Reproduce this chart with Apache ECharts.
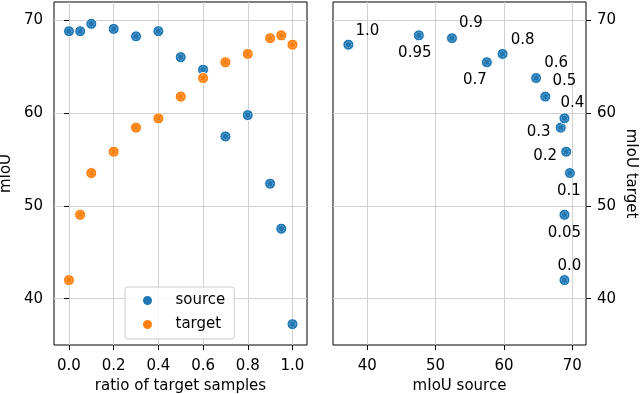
<!DOCTYPE html>
<html>
<head>
<meta charset="utf-8">
<script src="https://cdn.jsdelivr.net/npm/echarts@6/dist/echarts.min.js"></script>
<style>
  html, body { margin: 0; padding: 0; background: #fff; }
  #main { width: 640px; height: 394px; }
</style>
</head>
<body>
<div id="main"></div>
<script>
// ratio of target samples, with the text shown next to each point on the right
const ratios = [0, 0.05, 0.1, 0.2, 0.3, 0.4, 0.5, 0.6, 0.7, 0.8, 0.9, 0.95, 1.0];
const ratioLabels = ['0.0', '0.05', '0.1', '0.2', '0.3', '0.4', '0.5', '0.6', '0.7', '0.8', '0.9', '0.95', '1.0'];
// mIoU values
const sourceMiou = [68.85, 68.85, 69.65, 69.1, 68.3, 68.85, 66.05, 64.7, 57.5, 59.8, 52.4, 47.55, 37.25];
const targetMiou = [42.0, 49.05, 53.55, 55.85, 58.45, 59.45, 61.8, 63.8, 65.5, 66.4, 68.1, 68.4, 67.4];
// tick labels
const ratioTicks = [0, 0.2, 0.4, 0.6, 0.8, 1.0];
const miouTicks = [40, 50, 60, 70];

// where each annotation sits relative to its point (px)
const labelOffsets = [
  [5, -14], [0, 18], [-1, 18], [-21, 4], [-22, 4], [8, -15], [19, -15],
  [20, -15], [-12, 18], [20, -14], [19, -15], [-4, 18], [19, -14]
];

const BLUE = '#1f77b4';
const ORANGE = '#ff7f0e';
const FONT = 'DejaVu Sans';
const FS = 15;

const chart = echarts.init(document.getElementById('main'), null, { renderer: 'canvas' });

function tickAxis(ticks, margin, extra) {
  return Object.assign({
    type: 'value',
    axisLine: { show: false },
    axisTick: { show: true, inside: false, length: 5, customValues: ticks, lineStyle: { color: '#000', width: 1 } },
    axisLabel: { color: '#000', fontFamily: FONT, fontSize: FS, margin: margin, customValues: ticks },
    splitLine: { show: true, lineStyle: { color: '#d0d0d0', width: 1 } },
    nameTextStyle: { color: '#000', fontFamily: FONT, fontSize: FS },
    nameLocation: 'middle'
  }, extra);
}

function dotSeries(name, data, color, xi, yi, withLabels) {
  const main = {
    name: name,
    type: 'scatter',
    xAxisIndex: xi,
    yAxisIndex: yi,
    symbol: 'circle',
    symbolSize: 11,
    data: data,
    itemStyle: { color: color, opacity: 1, borderColor: '#fff', borderWidth: 1 },
    emphasis: { disabled: true },
    animation: false
  };
  if (withLabels) {
    main.data = data.map((d, i) => ({
      value: d,
      label: {
        show: true,
        position: 'inside',
        offset: labelOffsets[i],
        formatter: ratioLabels[i],
        color: '#000',
        fontFamily: FONT,
        fontSize: FS,
        align: 'center',
        verticalAlign: 'middle'
      }
    }));
  }
  // dotted white ring inside each marker
  const ring = {
    type: 'scatter',
    xAxisIndex: xi,
    yAxisIndex: yi,
    symbol: 'circle',
    symbolSize: 6,
    data: data,
    silent: true,
    itemStyle: { color: color, borderColor: 'rgba(255,255,255,0.85)', borderWidth: 0.8, borderType: 'dotted' },
    emphasis: { disabled: true },
    animation: false
  };
  return [main, ring];
}

const sourcePts = ratios.map((r, i) => [r, sourceMiou[i]]);
const targetPts = ratios.map((r, i) => [r, targetMiou[i]]);
const tradeoffPts = ratios.map((r, i) => [sourceMiou[i], targetMiou[i]]);

const gridBase = {
  top: 2, width: 253, height: 343,
  show: true, borderColor: '#000', borderWidth: 1, backgroundColor: 'transparent',
  containLabel: false, outerBoundsMode: 'none'
};

const option = {
  backgroundColor: '#fff',
  animation: false,
  grid: [
    Object.assign({ left: 54 }, gridBase),
    Object.assign({ left: 333 }, gridBase)
  ],
  legend: {
    data: ['source', 'target'],
    orient: 'vertical',
    left: 125,
    top: 287,
    padding: [6, 9, 7, 16],
    itemWidth: 30,
    itemHeight: 11,
    itemGap: 9,
    backgroundColor: 'rgba(255,255,255,0.8)',
    borderColor: '#cccccc',
    borderWidth: 1,
    borderRadius: 3,
    textStyle: { color: '#000', fontFamily: FONT, fontSize: FS, lineHeight: 15, padding: [0, 0, 0, 8] }
  },
  xAxis: [
    tickAxis(ratioTicks, 14, {
      gridIndex: 0, min: -0.067, max: 1.065,
      name: 'ratio of target samples', nameGap: 32,
      axisLabel: { color: '#000', fontFamily: FONT, fontSize: FS, margin: 14, customValues: ratioTicks, formatter: v => v.toFixed(1) }
    }),
    tickAxis(miouTicks, 14, {
      gridIndex: 1, min: 35, max: 72,
      name: 'mIoU source', nameGap: 32
    })
  ],
  yAxis: [
    tickAxis(miouTicks, 11, {
      gridIndex: 0, min: 35, max: 72,
      name: 'mIoU', nameGap: 40
    }),
    tickAxis(miouTicks, 11, {
      gridIndex: 1, min: 35, max: 72, position: 'right',
      name: 'mIoU target', nameGap: 37, nameRotate: -90
    })
  ],
  series: [].concat(
    dotSeries('source', sourcePts, BLUE, 0, 0, false),
    dotSeries('target', targetPts, ORANGE, 0, 0, false),
    dotSeries('tradeoff', tradeoffPts, BLUE, 1, 1, true)
  )
};

chart.setOption(option);
</script>
</body>
</html>
